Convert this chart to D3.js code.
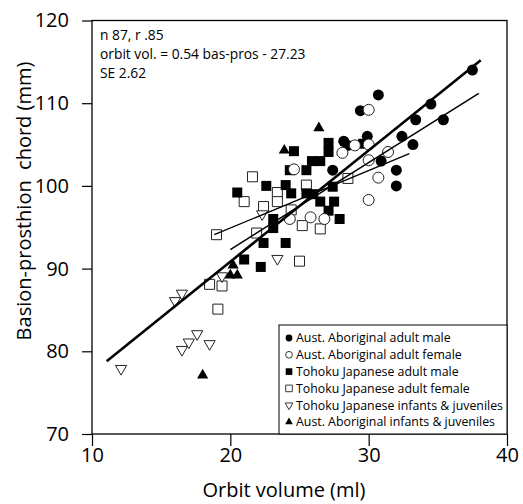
<!DOCTYPE html>
<html>
<head>
<meta charset="utf-8">
<script src="https://cdn.jsdelivr.net/npm/d3@7"></script>
<style>
  body { margin: 0; background: #fff; }
  text { font-family: 'Open Sans', sans-serif; fill: #000; }
</style>
</head>
<body>
<div id="chart"></div>
<script>
// Data (orbit volume ml, basion-prosthion chord mm)
const ausMale = [
  [37.5, 114.0], [30.7, 111.0], [29.4, 109.1], [34.5, 109.9], [33.4, 108.0],
  [35.4, 108.0], [28.2, 105.4], [28.5, 104.9], [29.9, 106.0], [32.4, 106.0],
  [33.2, 105.0], [30.9, 103.0], [32.0, 101.9], [32.0, 100.0], [27.4, 101.9],
];
const ausFemale = [
  [30.0, 109.2], [24.6, 102.0], [28.1, 104.0], [29.0, 104.9], [30.0, 105.0],
  [31.4, 104.1], [30.0, 103.1], [30.7, 101.0], [30.0, 98.3], [24.3, 96.0],
  [25.8, 96.2], [26.8, 96.0],
];
const tohokuMale = [
  [24.6, 104.2], [24.3, 101.9], [25.5, 101.9], [25.9, 103.0], [26.5, 103.0],
  [27.1, 104.1], [27.1, 105.2], [29.6, 105.1], [20.5, 99.2], [22.6, 100.0],
  [24.0, 100.1], [24.4, 99.1], [25.5, 99.1], [26.0, 99.0], [27.4, 99.9],
  [26.5, 98.1], [27.5, 98.1], [27.1, 97.0], [27.9, 96.0], [23.1, 96.0],
  [23.1, 94.9], [22.4, 93.1], [24.0, 93.1], [21.0, 91.1], [22.2, 90.2],
];
const tohokuFemale = [
  [21.6, 101.1], [21.0, 98.1], [22.4, 97.5], [23.4, 99.2], [23.4, 98.1],
  [25.5, 100.1], [24.4, 97.1], [19.0, 94.1], [21.9, 94.3], [25.2, 95.2],
  [26.5, 94.8], [28.5, 100.9], [25.0, 90.9], [18.5, 88.1], [19.4, 87.9],
  [19.1, 85.1],
];
const tohokuJuv = [
  [12.1, 77.9], [16.0, 86.1], [16.5, 87.0], [16.5, 80.2], [17.0, 81.1],
  [17.6, 82.1], [18.5, 80.9], [19.4, 89.1], [22.3, 96.6], [23.4, 91.2],
];
const ausJuv = [
  [26.4, 107.0], [23.9, 104.3], [18.0, 77.1], [20.2, 90.4], [20.0, 89.2],
  [20.5, 89.2],
];

// regression lines, end points
const lineAll = [[11.06, 78.8], [38.1, 115.2]];
const lineB = [[20.0, 92.3], [37.96, 111.2]];
const lineC = [[18.84, 94.1], [32.94, 103.9]];

const xTicks = [10, 20, 30, 40];
const yTicks = [70, 80, 90, 100, 110, 120];
const statLines = ['n 87, r .85', 'orbit vol. = 0.54 bas-pros - 27.23', 'SE 2.62'];
const groupNames = [
  'Aust. Aboriginal adult male',
  'Aust. Aboriginal adult female',
  'Tohoku Japanese adult male',
  'Tohoku Japanese adult female',
  'Tohoku Japanese infants & juveniles',
  'Aust. Aboriginal infants & juveniles',
];

const W = 523, H = 504;
const x = d3.scaleLinear([10, 40], [92, 507]);
const y = d3.scaleLinear([70, 120], [434, 20.5]);

const svg = d3.select('#chart').append('svg')
  .attr('width', W).attr('height', H)
  .attr('viewBox', [0, 0, W, H]);

// frame
svg.append('rect')
  .attr('x', x(10)).attr('y', y(120))
  .attr('width', x(40) - x(10)).attr('height', y(70) - y(120))
  .attr('fill', 'none').attr('stroke', '#000').attr('stroke-width', 1.3);

// axes
const yAxis = svg.append('g')
  .attr('transform', `translate(${x(10)},0)`)
  .call(d3.axisLeft(y).tickValues(yTicks).tickSize(10).tickPadding(13));
const xAxis = svg.append('g')
  .attr('transform', `translate(0,${y(70)})`)
  .call(d3.axisBottom(x).tickValues(xTicks).tickSize(12).tickPadding(2));
[xAxis, yAxis].forEach((g) => {
  g.select('.domain').remove();
  g.selectAll('line').attr('stroke', '#000').attr('stroke-width', 1.2);
  g.selectAll('text').style('font-size', '20px').style('font-family', "'Open Sans', sans-serif");
});

// axis names
svg.append('text')
  .attr('x', 284).attr('y', 497)
  .attr('text-anchor', 'middle')
  .style('font-size', '20px')
  .text('Orbit volume (ml)');
svg.append('text')
  .attr('transform', `translate(31, 201) rotate(-90)`)
  .attr('text-anchor', 'middle')
  .style('font-size', '20px')
  .style('white-space', 'pre')
  .text('Basion-prosthion\u00a0\u00a0chord (mm)');

// stats text
svg.append('g')
  .selectAll('text')
  .data(statLines)
  .join('text')
  .attr('x', 100)
  .attr('y', (d, i) => 39.5 + i * 19)
  .style('font-size', '13.8px')
  .text((d) => d);

// symbols
const sym = {
  ausMale: { type: d3.symbolCircle, fill: '#000', rot: 0 },
  ausFemale: { type: d3.symbolCircle, fill: '#fff', rot: 0 },
  tohokuMale: { type: d3.symbolSquare, fill: '#000', rot: 0 },
  tohokuFemale: { type: d3.symbolSquare, fill: '#fff', rot: 0 },
  tohokuJuv: { type: d3.symbolTriangle, fill: '#fff', rot: 180 },
  ausJuv: { type: d3.symbolTriangle, fill: '#000', rot: 0 },
};
const markSize = { circle: 95, square: 100, triangle: 54 };
const sizeOf = (t) => (t === d3.symbolCircle ? markSize.circle : t === d3.symbolSquare ? markSize.square : markSize.triangle);

const groups = [
  ['tohokuFemale', tohokuFemale],
  ['tohokuMale', tohokuMale],
  ['tohokuJuv', tohokuJuv],
  ['ausMale', ausMale],
  ['ausFemale', ausFemale],
  ['ausJuv', ausJuv],
];

groups.forEach(([key, pts]) => {
  const s = sym[key];
  svg.append('g')
    .selectAll('path')
    .data(pts)
    .join('path')
    .attr('d', d3.symbol(s.type, sizeOf(s.type)))
    .attr('transform', (d) => `translate(${x(d[0])},${y(d[1])}) rotate(${s.rot})`)
    .attr('fill', s.fill)
    .attr('stroke', s.fill === '#fff' ? '#222' : 'none')
    .attr('stroke-width', 1);
});

// regression lines
const line = d3.line().x((d) => x(d[0])).y((d) => y(d[1]));
[[lineAll, 2.6], [lineB, 1.5], [lineC, 1.3]].forEach(([pts, w]) => {
  svg.append('path')
    .attr('d', line(pts))
    .attr('fill', 'none')
    .attr('stroke', '#000')
    .attr('stroke-width', w);
});

// legend
const legend = svg.append('g');
legend.append('rect')
  .attr('x', 279).attr('y', 325)
  .attr('width', x(40) - 279).attr('height', y(70) - 325)
  .attr('fill', '#fff').attr('stroke', '#000').attr('stroke-width', 1);
const legKeys = ['ausMale', 'ausFemale', 'tohokuMale', 'tohokuFemale', 'tohokuJuv', 'ausJuv'];
const legSize = { circle: 36, square: 44, triangle: 26 };
legKeys.forEach((key, i) => {
  const s = sym[key];
  const cy = 338 + i * 16.8;
  const sz = s.type === d3.symbolCircle ? legSize.circle : s.type === d3.symbolSquare ? legSize.square : legSize.triangle;
  legend.append('path')
    .attr('d', d3.symbol(s.type, sz))
    .attr('transform', `translate(289,${cy}) rotate(${s.rot})`)
    .attr('fill', s.fill)
    .attr('stroke', s.fill === '#fff' ? '#222' : 'none')
    .attr('stroke-width', 0.9);
  legend.append('text')
    .attr('x', 296)
    .attr('y', cy + 4.3)
    .style('font-size', '12.35px')
    .text(groupNames[i]);
});
</script>
</body>
</html>
